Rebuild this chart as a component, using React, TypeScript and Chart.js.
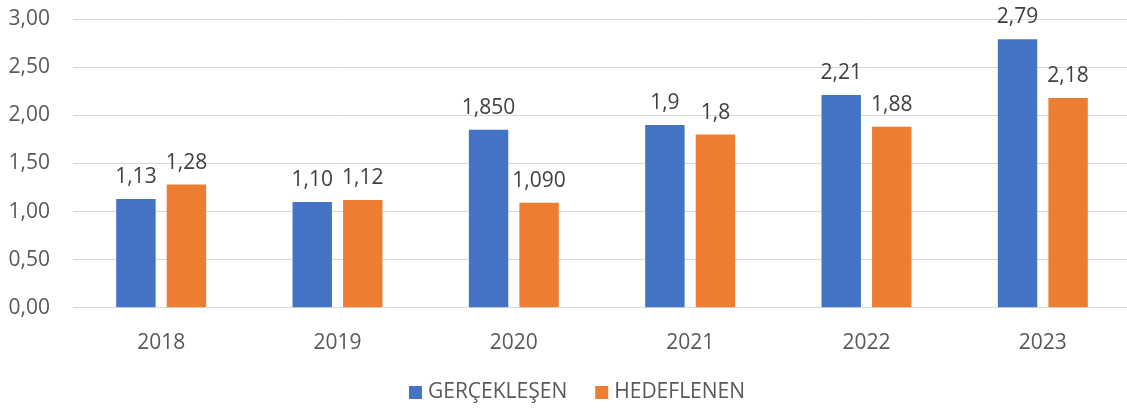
import React, { useEffect, useRef } from "react";
import { Chart, registerables } from "chart.js";

Chart.register(...registerables);

const categories = ["2018", "2019", "2020", "2021", "2022", "2023"];
const seriesNames = ["GERÇEKLEŞEN", "HEDEFLENEN"];
const seriesColors = ["#4472C4", "#ED7D31"];
const actualValues = [1.13, 1.1, 1.85, 1.9, 2.21, 2.79];
const targetValues = [1.28, 1.12, 1.09, 1.8, 1.88, 2.18];
const actualLabels = ["1,13", "1,10", "1,850", "1,9", "2,21", "2,79"];
const targetLabels = ["1,28", "1,12", "1,090", "1,8", "1,88", "2,18"];
const yTicks = { min: 0, max: 3, step: 0.5 };

const FONT = "'Open Sans', 'Liberation Sans', sans-serif";
const FS = 21;

const labelPlugin = {
  id: "barLabels",
  afterDatasetsDraw(chart: any) {
    const ctx = chart.ctx;
    const labelSets = [actualLabels, targetLabels];
    ctx.save();
    ctx.font = `${FS}px ${FONT}`;
    ctx.fillStyle = "#404040";
    ctx.textAlign = "center";
    ctx.textBaseline = "alphabetic";
    chart.data.datasets.forEach((_: any, di: number) => {
      const meta = chart.getDatasetMeta(di);
      meta.data.forEach((el: any, i: number) => {
        ctx.fillText(labelSets[di][i], el.x, el.y - 16);
      });
    });
    ctx.restore();
  },
};

const legendPlugin = {
  id: "customLegend",
  afterDraw(chart: any) {
    const ctx = chart.ctx;
    ctx.save();
    ctx.font = `${FS}px ${FONT}`;
    const box = 13;
    const boxGap = 6;
    const itemGap = 28;
    const widths = seriesNames.map((n) => box + boxGap + ctx.measureText(n).width);
    const total = widths.reduce((a, b) => a + b, 0) + itemGap * (seriesNames.length - 1);
    let x = 577 - total / 2;
    seriesNames.forEach((n, i) => {
      ctx.fillStyle = seriesColors[i];
      ctx.fillRect(x, 386, box, box);
      ctx.fillStyle = "#595959";
      ctx.textAlign = "left";
      ctx.textBaseline = "alphabetic";
      ctx.fillText(n, x + box + boxGap, 398);
      x += widths[i] + itemGap;
    });
    ctx.restore();
  },
};

export default function App() {
  const ref = useRef<HTMLCanvasElement | null>(null);
  useEffect(() => {
    if (!ref.current) return;
    const chart = new Chart(ref.current, {
      type: "bar",
      data: {
        labels: categories,
        datasets: [
          {
            label: seriesNames[0],
            data: actualValues,
            backgroundColor: seriesColors[0],
            categoryPercentage: 0.573,
            barPercentage: 0.78,
          },
          {
            label: seriesNames[1],
            data: targetValues,
            backgroundColor: seriesColors[1],
            categoryPercentage: 0.573,
            barPercentage: 0.78,
          },
        ],
      },
      options: {
        animation: false,
        responsive: false,
        maintainAspectRatio: false,
        layout: { padding: { top: 0, right: 4, left: 8, bottom: 37 } },
        plugins: {
          legend: { display: false },
          tooltip: { enabled: false },
        },
        scales: {
          x: {
            grid: { display: false },
            border: { display: false },
            ticks: {
              font: { family: FONT, size: FS },
              color: "#595959",
              padding: 15,
            },
          },
          y: {
            min: yTicks.min,
            max: yTicks.max,
            afterFit: (scale: any) => {
              scale.width = 65;
              scale.paddingTop = 19;
              scale.paddingBottom = 0;
            },
            ticks: {
              stepSize: yTicks.step,
              font: { family: FONT, size: FS },
              color: "#595959",
              padding: 23,
              callback: (v: any) => Number(v).toFixed(2).replace(".", ","),
            },
            grid: { color: "#D9D9D9", lineWidth: 1, drawTicks: false },
            border: { display: false },
          },
        },
      },
      plugins: [labelPlugin, legendPlugin],
    });
    return () => chart.destroy();
  }, []);
  return (
    <div
      style={{
        position: "fixed",
        left: 0,
        top: 0,
        width: 1127,
        height: 408,
        overflow: "hidden",
        background: "#fff",
      }}
    >
      <canvas ref={ref} width={1135} height={408} style={{ display: "block" }} />
    </div>
  );
}
